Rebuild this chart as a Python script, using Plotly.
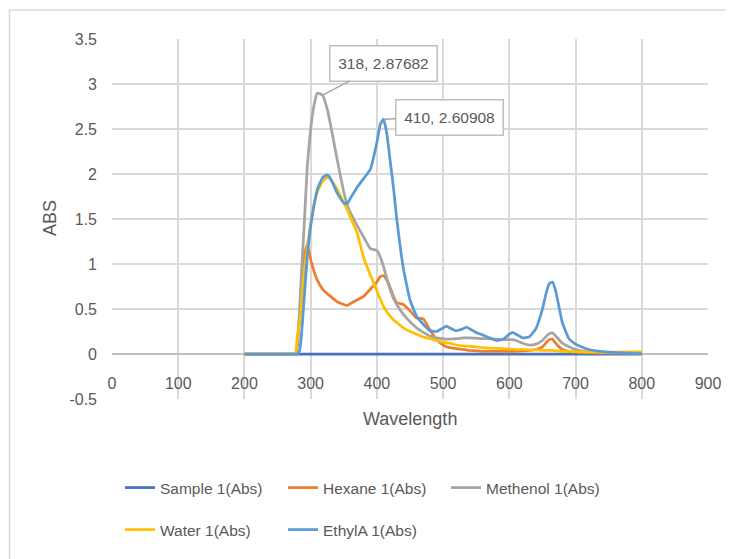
import plotly.graph_objects as go

# ---------------- data ----------------
wavelength = [200, 272, 277, 280, 283, 286, 290, 295, 300, 305, 310,
              318, 325, 330, 340, 350, 355, 360, 370, 380, 390,
              400, 405, 410, 415, 420, 425, 430, 440, 450, 460,
              470, 480, 490, 500, 505, 510, 520, 530, 535, 540,
              550, 560, 570, 580, 590, 600, 605, 610, 620, 630,
              640, 650, 655, 660, 665, 670, 680, 690, 700, 720,
              750, 800]

sample_wl = [200, 300, 400, 500, 600, 700, 800]
sample_abs = [0.0, 0.0, 0.0, 0.0, 0.0, 0.0, 0.0]

hexane_abs = [0, 0, 0, 0.1, 0.4, 0.75, 1.1, 1.22, 1.05, 0.92, 0.82,
              0.72, 0.67, 0.64, 0.58, 0.55, 0.54, 0.56, 0.6, 0.64, 0.72,
              0.8, 0.86, 0.87, 0.82, 0.74, 0.64, 0.57, 0.55, 0.48, 0.4,
              0.39, 0.27, 0.16, 0.1, 0.08, 0.07, 0.06, 0.05, 0.045, 0.04,
              0.035, 0.03, 0.03, 0.03, 0.03, 0.03, 0.03, 0.03, 0.035, 0.04,
              0.05, 0.08, 0.12, 0.16, 0.165, 0.12, 0.05, 0.03, 0.02, 0.015,
              0.01, 0.01]

methenol_abs = [0, 0, 0, 0.15, 0.45, 0.9, 1.4, 2.1, 2.5, 2.76, 2.9,
                2.87682, 2.72, 2.55, 2.16, 1.8, 1.66, 1.57, 1.43, 1.3, 1.17,
                1.15, 1.08, 0.97, 0.84, 0.72, 0.62, 0.55, 0.44, 0.36, 0.29,
                0.24, 0.2, 0.18, 0.17, 0.165, 0.165, 0.17, 0.18, 0.18, 0.18,
                0.175, 0.17, 0.17, 0.165, 0.16, 0.16, 0.16, 0.15, 0.12, 0.1,
                0.11, 0.15, 0.19, 0.225, 0.235, 0.2, 0.12, 0.08, 0.05, 0.025,
                0.015, 0.01]

water_abs = [0, 0, 0, 0.22, 0.32, 0.55, 0.9, 1.2, 1.45, 1.66, 1.8,
             1.92, 1.96, 1.94, 1.83, 1.68, 1.61, 1.52, 1.35, 1.07, 0.88,
             0.7, 0.61, 0.53, 0.47, 0.42, 0.38, 0.35, 0.29, 0.25, 0.22,
             0.19, 0.17, 0.15, 0.13, 0.125, 0.12, 0.1, 0.09, 0.088, 0.085,
             0.08, 0.07, 0.065, 0.063, 0.06, 0.055, 0.055, 0.05, 0.05, 0.045,
             0.045, 0.04, 0.04, 0.04, 0.04, 0.035, 0.03, 0.03, 0.025, 0.02,
             0.02, 0.025]

ethyla_abs = [0, 0, 0, 0, 0.03, 0.2, 0.6, 1.1, 1.42, 1.65, 1.83,
              1.96, 1.99, 1.95, 1.79, 1.68, 1.67, 1.73, 1.85, 1.95, 2.05,
              2.35, 2.55, 2.60908, 2.45, 2.15, 1.85, 1.5, 0.95, 0.6, 0.42,
              0.33, 0.26, 0.25, 0.29, 0.31, 0.29, 0.26, 0.28, 0.3, 0.28,
              0.24, 0.21, 0.18, 0.15, 0.16, 0.22, 0.24, 0.22, 0.18, 0.19,
              0.28, 0.5, 0.66, 0.78, 0.8, 0.7, 0.35, 0.17, 0.11, 0.05,
              0.02, 0.005]

series_names = ["Sample 1(Abs)", "Hexane 1(Abs)", "Methenol 1(Abs)",
                "Water 1(Abs)", "EthylA 1(Abs)"]
series_colors = ["#4472C4", "#ED7D31", "#A5A5A5", "#FFC000", "#5B9BD5"]

label_points = [(318, 2.87682), (410, 2.60908)]

x_ticks = [0, 100, 200, 300, 400, 500, 600, 700, 800, 900]
y_ticks = [-0.5, 0, 0.5, 1, 1.5, 2, 2.5, 3, 3.5]
y_tick_text = ["-0.5", "0", "0.5", "1", "1.5", "2", "2.5", "3", "3.5"]

# ---------------- figure ----------------
FONT = "Liberation Sans, Arial, sans-serif"
TXT = "#595959"
GRID = "#D9D9D9"

# page body has an 8px default margin; figure is sized to fill the window
OFF = 8
W, H = 734 - OFF, 559 - OFF
L, R, T, B = 112 - OFF, 26, 39 - OFF, 160
pw, ph = W - L - R, H - T - B


def px_x(p):  # reference-window x pixel -> paper
    return (p - OFF - L) / pw


def px_y(p):  # reference-window y pixel -> paper
    return (H - B - (p - OFF)) / ph


xs = [sample_wl, wavelength, wavelength, wavelength, wavelength]
ys = [sample_abs, hexane_abs, methenol_abs, water_abs, ethyla_abs]
legends = ["legend", "legend", "legend", "legend2", "legend2"]

fig = go.Figure()
for name, color, x, y, lg in zip(series_names, series_colors, xs, ys, legends):
    fig.add_trace(go.Scatter(
        x=x, y=y, name=name, mode="lines",
        line=dict(color=color, width=2.75, shape="spline", smoothing=0.4),
        legend=lg, hoverinfo="skip",
    ))

# data-label callouts
offsets = [(61, -32), (66, -2)]
for (lx, ly), (ax, ay) in zip(label_points, offsets):
    fig.add_annotation(
        x=lx, y=ly, xref="x", yref="y",
        text=f"{lx}, {ly}",
        showarrow=True, arrowhead=0, arrowwidth=1.5, arrowcolor="#A6A6A6",
        ax=ax, ay=ay, width=100, height=28,
        bgcolor="white", bordercolor="#BFBFBF", borderwidth=1.5, borderpad=3,
        font=dict(family=FONT, size=15.5, color=TXT),
    )

# axis titles
fig.add_annotation(x=px_x(410), y=px_y(419), xref="paper", yref="paper",
                   xanchor="center", yanchor="middle",
                   text="Wavelength", showarrow=False,
                   font=dict(family=FONT, size=18, color=TXT))
fig.add_annotation(x=px_x(50), y=px_y(218), xref="paper", yref="paper",
                   xanchor="center", yanchor="middle",
                   text="ABS", showarrow=False, textangle=-90,
                   font=dict(family=FONT, size=18, color=TXT))

# chart area border
fig.add_shape(type="rect", xref="paper", yref="paper",
              x0=px_x(9.5), x1=px_x(745), y0=px_y(10), y1=px_y(575),
              line=dict(color="#D9D9D9", width=1.5), fillcolor="rgba(0,0,0,0)",
              layer="below")

legend_common = dict(orientation="h", xanchor="left", yanchor="middle",
                     entrywidth=118, font=dict(family=FONT, size=15.5, color=TXT),
                     bgcolor="rgba(0,0,0,0)", traceorder="normal")

fig.update_layout(
    width=W, height=H,
    margin=dict(l=L, r=R, t=T, b=B, autoexpand=False),
    paper_bgcolor="white", plot_bgcolor="white",
    font=dict(family=FONT, size=16, color=TXT),
    showlegend=True,
    legend=dict(x=px_x(120), y=px_y(488), **legend_common),
    legend2=dict(x=px_x(120), y=px_y(530), **legend_common),
    xaxis=dict(range=[0, 900], tickvals=x_ticks, ticktext=[str(v) for v in x_ticks],
               showgrid=True, gridcolor=GRID, gridwidth=1.5,
               showline=False, zeroline=False, ticks="",
               anchor="free", position=0.125, ticklabelstandoff=18,
               tickfont=dict(family=FONT, size=16, color=TXT)),
    yaxis=dict(range=[-0.5, 3.5], tickvals=y_ticks, ticktext=y_tick_text,
               showgrid=True, gridcolor=GRID, gridwidth=1.5,
               zeroline=True, zerolinecolor="#BFBFBF", zerolinewidth=2,
               showline=False, ticks="", ticklabelstandoff=14,
               tickfont=dict(family=FONT, size=16, color=TXT)),
)

fig.write_html("out.html")
